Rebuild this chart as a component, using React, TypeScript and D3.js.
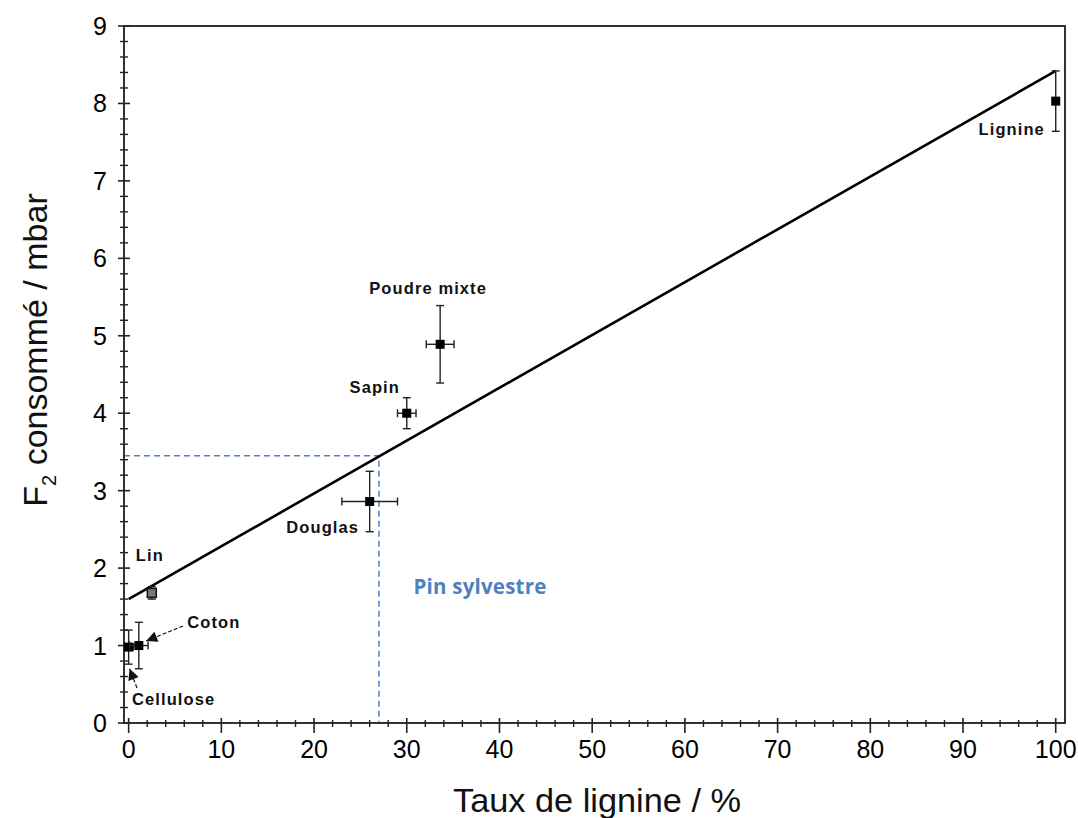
import React from "react";
import * as d3 from "d3";

// ---- data ----
const names = ["Cellulose", "Coton", "Lin", "Douglas", "Sapin", "Poudre mixte", "Lignine"];
const ligninPct = [0, 1.1, 2.5, 26, 30, 33.6, 100];
const f2Values = [0.98, 1.0, 1.68, 2.86, 4.0, 4.89, 8.03];
const xErr = [0.5, 1.0, 0.3, 3.0, 1.0, 1.5, 0];
const yErr = [0.22, 0.3, 0.08, 0.39, 0.2, 0.5, 0.39];
const fitX = [0, 100];
const fitY = [1.6, 8.42];
const pinX = 27;
const pinY = 3.45;
const xTicks = [0, 10, 20, 30, 40, 50, 60, 70, 80, 90, 100];
const yTicks = [0, 1, 2, 3, 4, 5, 6, 7, 8, 9];

// label placement (offsets in px from the point)
const labelDx = [45, 75, -2, -47, -32, -12, -44];
const labelDy = [58, -18, -32, 31, -20, -50, 34];

const W = 1078, H = 818;
const x = d3.scaleLinear().domain([-0.5, 101]).range([124, 1065]);
const y = d3.scaleLinear().domain([0, 9]).range([723, 26]);

export default function App() {
  const FONT = "Arial, 'Liberation Sans', sans-serif";
  const line = d3.line<[number, number]>().x(d => x(d[0])).y(d => y(d[1]));
  const fitPts: [number, number][] = fitX.map((v, i) => [v, fitY[i]]);
  const xMinor = d3.range(0, 101, 2).filter(v => v % 10 !== 0);
  const yMinor = d3.range(0, 9.01, 0.2).map(v => +v.toFixed(1)).filter(v => Math.abs(v - Math.round(v)) > 0.01);
  const cap = 4;
  const ms = 9;
  return (
    <svg width={W} height={H} style={{ position: "absolute", left: 0, top: 0, background: "#fff" }}>
      <defs>
        <marker id="arr" viewBox="0 0 10 10" refX="10" refY="5" markerWidth="16" markerHeight="11" markerUnits="userSpaceOnUse" orient="auto">
          <path d="M0,0 L10,5 L0,10 z" fill="#111" />
        </marker>
      </defs>
      <rect x={0} y={0} width={W} height={H} fill="#fff" />
      {/* blue dashed guide */}
      <path d={`M${x(-0.5)},${y(pinY)} H${x(pinX)} V${y(0)}`} fill="none" stroke="#4F81BD" strokeWidth={1.5} strokeDasharray="6,4" />
      {/* fit line */}
      <path d={line(fitPts) || ""} fill="none" stroke="#000" strokeWidth={2.6} />
      {/* frame */}
      <rect x={x(-0.5)} y={y(9)} width={x(101) - x(-0.5)} height={y(0) - y(9)} fill="none" stroke="#333" strokeWidth={2} />
      {/* y ticks */}
      {yTicks.map(t => (
        <g key={"yt" + t}>
          <line x1={x(-0.5) - 6} x2={x(-0.5) + 6} y1={y(t)} y2={y(t)} stroke="#222" strokeWidth={1.6} />
          <text x={107} y={y(t)} dy="0.36em" textAnchor="end" fontFamily={FONT} fontSize={25} fill="#000">{t}</text>
        </g>
      ))}
      {yMinor.map(t => (
        <line key={"ym" + t} x1={x(-0.5) - 4} x2={x(-0.5) + 4} y1={y(t)} y2={y(t)} stroke="#222" strokeWidth={1.4} />
      ))}
      {/* x ticks */}
      {xTicks.map(t => (
        <g key={"xt" + t}>
          <line x1={x(t)} x2={x(t)} y1={y(0) - 5} y2={y(0) + 10} stroke="#222" strokeWidth={1.6} />
          <text x={x(t)} y={758} textAnchor="middle" fontFamily={FONT} fontSize={25} fill="#000">{t}</text>
        </g>
      ))}
      {xMinor.map(t => (
        <line key={"xm" + t} x1={x(t)} x2={x(t)} y1={y(0) - 3} y2={y(0) + 4} stroke="#222" strokeWidth={1.4} />
      ))}
      {/* error bars & points */}
      {names.map((n, i) => {
        const cx = x(ligninPct[i]), cy = y(f2Values[i]);
        const x0 = x(ligninPct[i] - xErr[i]), x1 = x(ligninPct[i] + xErr[i]);
        const y0 = y(f2Values[i] - yErr[i]), y1 = y(f2Values[i] + yErr[i]);
        const hollow = n === "Lin";
        return (
          <g key={n}>
            <line x1={cx} x2={cx} y1={y0} y2={y1} stroke="#222" strokeWidth={1.4} />
            <line x1={cx - cap} x2={cx + cap} y1={y0} y2={y0} stroke="#222" strokeWidth={1.4} />
            <line x1={cx - cap} x2={cx + cap} y1={y1} y2={y1} stroke="#222" strokeWidth={1.4} />
            {xErr[i] > 0 && (
              <g>
                <line x1={x0} x2={x1} y1={cy} y2={cy} stroke="#222" strokeWidth={1.4} />
                <line x1={x0} x2={x0} y1={cy - cap} y2={cy + cap} stroke="#222" strokeWidth={1.4} />
                <line x1={x1} x2={x1} y1={cy - cap} y2={cy + cap} stroke="#222" strokeWidth={1.4} />
              </g>
            )}
            <rect x={cx - ms / 2} y={cy - ms / 2} width={ms} height={ms}
              fill={hollow ? "#777" : "#000"} stroke="#111" strokeWidth={hollow ? 1.5 : 0} />
          </g>
        );
      })}
      {/* point labels */}
      {names.map((n, i) => (
        <text key={"l" + n} x={x(ligninPct[i]) + labelDx[i]} y={y(f2Values[i]) + labelDy[i]} textAnchor="middle"
          fontFamily={FONT} fontWeight="bold" fontSize={16.5} letterSpacing={1.1} fill="#111">{n}</text>
      ))}
      {/* arrows */}
      <line x1={183} y1={626} x2={x(1.9)} y2={y(1.06)} stroke="#111" strokeWidth={1.2} strokeDasharray="4,2" markerEnd="url(#arr)" />
      <line x1={137} y1={688} x2={x(0.1)} y2={y(0.7)} stroke="#111" strokeWidth={1.2} strokeDasharray="4,2" markerEnd="url(#arr)" />
      {/* Pin sylvestre */}
      <text x={480} y={594} textAnchor="middle" fontFamily="'Open Sans', 'Noto Sans', sans-serif" fontWeight="bold" fontSize={20.5} letterSpacing={0.2} fill="#4F81BD">Pin sylvestre</text>
      {/* axis titles */}
      <text x={597} y={812} textAnchor="middle" fontFamily={FONT} fontSize={33} textLength={288} lengthAdjust="spacingAndGlyphs" fill="#111">Taux de lignine / %</text>
      <text transform={`translate(47,350) rotate(-90)`} textAnchor="middle" fontFamily={FONT} fontSize={34} fill="#111">
        <tspan>F</tspan><tspan fontSize={20} dy={9}>2</tspan><tspan dy={-9}> consommé / mbar</tspan>
      </text>
    </svg>
  );
}
